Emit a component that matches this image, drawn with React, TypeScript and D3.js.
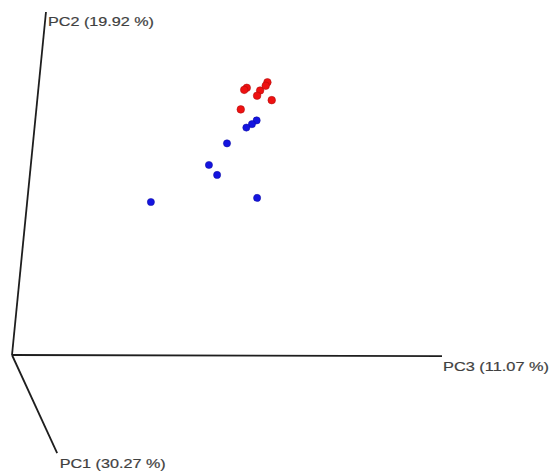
import React from "react";
import * as d3 from "d3";

// Projected PCA scores (screen-projected units, 0..100)
const redX = [54.6, 54.0, 57.7, 57.0, 59.4, 59.0, 60.4, 53.2];
const redY = [77.9, 77.3, 77.1, 75.6, 79.5, 78.5, 74.3, 71.6];
const blueX = [56.9, 55.8, 54.5, 50.0, 45.8, 47.7, 32.3, 57.0];
const blueY = [68.4, 67.3, 66.3, 61.7, 55.4, 52.5, 44.6, 45.8];

// Projected axis directions
const axisNames = ["PC1 (30.27 %)", "PC2 (19.92 %)", "PC3 (11.07 %)"];
const axisEndX = [10.5, 7.9, 100];
const axisEndY = [-28.6, 100, -0.3];

const W = 551;
const H = 472;

export default function App() {
  const x = d3.scaleLinear().domain([0, 100]).range([12, 442]);
  const y = d3.scaleLinear().domain([0, 100]).range([355, 12]);
  const line = d3.line<[number, number]>().x((d) => x(d[0])).y((d) => y(d[1]));

  const labelOffsets: [number, number][] = [
    [2.5, 15],
    [2, 14],
    [1, 15],
  ];

  const red = redX.map((v, i) => [v, redY[i]] as [number, number]);
  const blue = blueX.map((v, i) => [v, blueY[i]] as [number, number]);

  return (
    <svg
      width={W}
      height={H}
      style={{ position: "absolute", left: 0, top: 0, background: "#fff" }}
    >
      {axisNames.map((name, i) => (
        <g key={name}>
          <path
            d={line([[0, 0], [axisEndX[i], axisEndY[i]]]) || ""}
            stroke="#1e1e1e"
            strokeWidth={1.8}
            fill="none"
          />
          <text
            x={x(axisEndX[i]) + labelOffsets[i][0]}
            y={y(axisEndY[i]) + labelOffsets[i][1]}
            fontFamily="Liberation Sans, Arial, sans-serif"
            fontSize={13.5}
            fill="#404040"
            stroke="#404040"
            strokeWidth={0.2}
            textLength={106}
            lengthAdjust="spacingAndGlyphs"
          >
            {name}
          </text>
        </g>
      ))}
      {blue.map((d, i) => (
        <circle key={"b" + i} cx={x(d[0])} cy={y(d[1])} r={3.6} fill="#1414e0" stroke="#0c0c9c" strokeWidth={0.5} />
      ))}
      {red.map((d, i) => (
        <circle key={"r" + i} cx={x(d[0])} cy={y(d[1])} r={3.8} fill="#ee1111" stroke="#a80d0d" strokeWidth={0.5} />
      ))}
    </svg>
  );
}
